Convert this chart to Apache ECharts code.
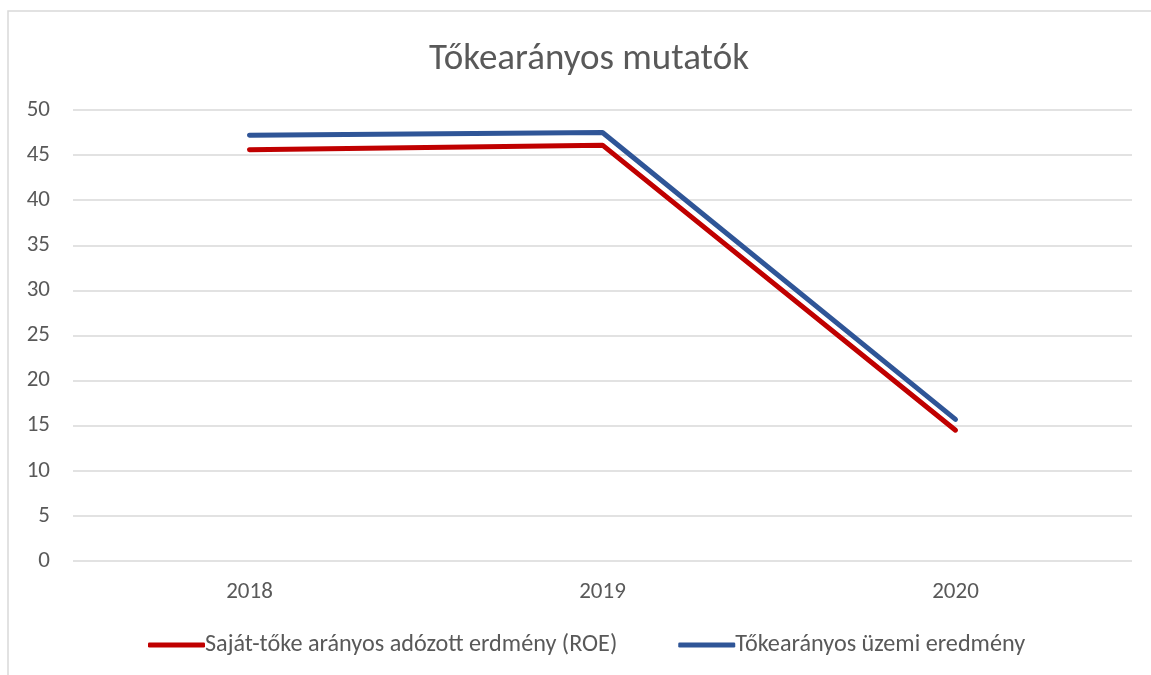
<!DOCTYPE html>
<html>
<head>
<meta charset="utf-8">
<script src="https://cdn.jsdelivr.net/npm/echarts@6/dist/echarts.min.js"></script>
<style>
  html, body { margin: 0; padding: 0; background: #fff; }
  #chart { width: 1151px; height: 675px; }
</style>
</head>
<body>
<div id="chart"></div>
<script>
// adatok
var years = ['2018', '2019', '2020']
var roe = [45.6, 46.1, 14.5]
var uzemi = [47.2, 47.5, 15.7]
var yTicks = [0, 50, 5] // min, max, interval

var font = "Carlito, 'Liberation Sans Narrow', 'Open Sans', sans-serif"
var chart = echarts.init(document.getElementById('chart'))

chart.setOption({
  animation: false,
  textStyle: { fontFamily: font },
  graphic: [
    {
      type: 'rect',
      shape: { x: 8, y: 11, width: 1160, height: 700 },
      style: { fill: 'none', stroke: '#D9D9D9', lineWidth: 1.5 },
      silent: true
    }
  ],
  title: {
    text: 'Tőkearányos mutatók',
    left: 584,
    top: 36,
    textAlign: 'center',
    textStyle: { fontFamily: font, fontSize: 37, fontWeight: 'normal', color: '#595959' }
  },
  legend: {
    top: 628,
    left: 143,
    itemGap: 61,
    itemWidth: 57,
    itemHeight: 5,
    icon: 'roundRect',
    textStyle: { fontFamily: font, fontSize: 24.2, color: '#595959', padding: [0, 0, 0, -5] },
    data: ['Saját-tőke arányos adózott erdmény (ROE)', 'Tőkearányos üzemi eredmény']
  },
  grid: { left: 73, right: 19, top: 110, bottom: 114 },
  xAxis: {
    type: 'category',
    data: years,
    axisLine: { show: false },
    axisTick: { show: false },
    axisLabel: { color: '#595959', fontSize: 23, margin: 20, fontFamily: font }
  },
  yAxis: {
    type: 'value',
    min: yTicks[0],
    max: yTicks[1],
    interval: yTicks[2],
    axisLine: { show: false },
    axisTick: { show: false },
    axisLabel: { color: '#595959', fontSize: 23, margin: 23, fontFamily: font },
    splitLine: { lineStyle: { color: '#D9D9D9', width: 1.5 } }
  },
  series: [
    {
      name: 'Saját-tőke arányos adózott erdmény (ROE)',
      type: 'line',
      data: roe,
      symbol: 'none',
      color: '#C00000',
      lineStyle: { width: 5, cap: 'round', join: 'round' },
      itemStyle: { color: '#C00000' }
    },
    {
      name: 'Tőkearányos üzemi eredmény',
      type: 'line',
      data: uzemi,
      symbol: 'none',
      color: '#2F5597',
      lineStyle: { width: 5, cap: 'round', join: 'round' },
      itemStyle: { color: '#2F5597' }
    }
  ]
})
</script>
</body>
</html>
